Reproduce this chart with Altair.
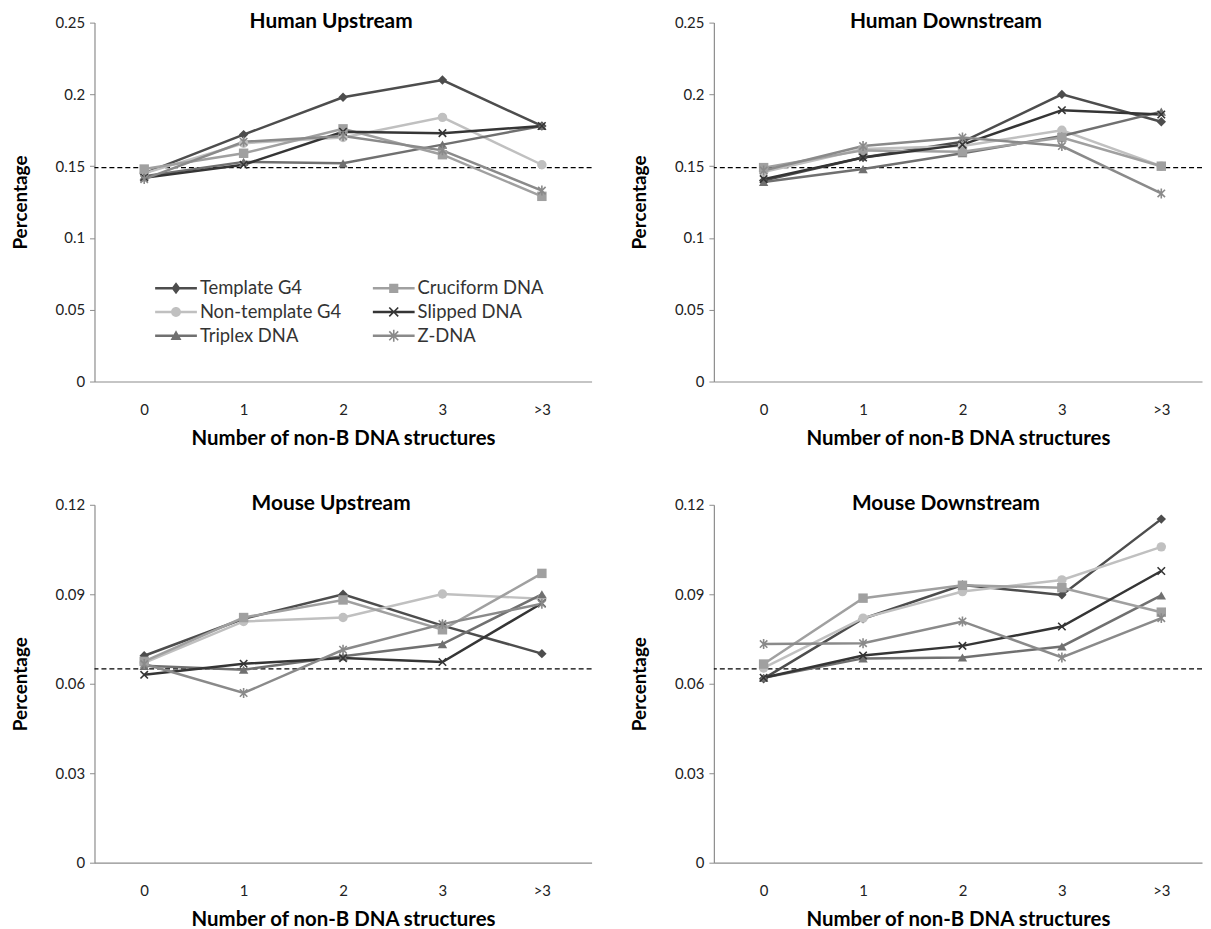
import altair as alt
import pandas as pd

FONT = "Lato"

categories = ["0", "1", "2", "3", ">3"]
series = ["Template G4", "Non-template G4", "Triplex DNA", "Cruciform DNA", "Slipped DNA", "Z-DNA"]

human_up = {
    "Template G4":     [0.145, 0.172, 0.198, 0.210, 0.178],
    "Non-template G4": [0.145, 0.166, 0.170, 0.184, 0.151],
    "Triplex DNA":     [0.143, 0.153, 0.152, 0.165, 0.178],
    "Cruciform DNA":   [0.148, 0.159, 0.176, 0.158, 0.129],
    "Slipped DNA":     [0.142, 0.151, 0.174, 0.173, 0.178],
    "Z-DNA":           [0.141, 0.167, 0.171, 0.161, 0.133],
}
human_down = {
    "Template G4":     [0.140, 0.156, 0.167, 0.200, 0.181],
    "Non-template G4": [0.146, 0.162, 0.164, 0.175, 0.150],
    "Triplex DNA":     [0.139, 0.148, 0.159, 0.171, 0.188],
    "Cruciform DNA":   [0.149, 0.161, 0.160, 0.170, 0.150],
    "Slipped DNA":     [0.141, 0.156, 0.165, 0.189, 0.186],
    "Z-DNA":           [0.147, 0.164, 0.170, 0.164, 0.131],
}
mouse_up = {
    "Template G4":     [0.0694, 0.0818, 0.0900, 0.0795, 0.0701],
    "Non-template G4": [0.0670, 0.0809, 0.0822, 0.0901, 0.0885],
    "Triplex DNA":     [0.0660, 0.0647, 0.0692, 0.0733, 0.0900],
    "Cruciform DNA":   [0.0675, 0.0822, 0.0881, 0.0781, 0.0970],
    "Slipped DNA":     [0.0630, 0.0667, 0.0686, 0.0673, 0.0870],
    "Z-DNA":           [0.0666, 0.0569, 0.0714, 0.0800, 0.0868],
}
mouse_down = {
    "Template G4":     [0.0617, 0.0818, 0.0931, 0.0898, 0.1152],
    "Non-template G4": [0.0653, 0.0820, 0.0909, 0.0948, 0.1059],
    "Triplex DNA":     [0.0620, 0.0685, 0.0688, 0.0725, 0.0896],
    "Cruciform DNA":   [0.0666, 0.0887, 0.0930, 0.0922, 0.0840],
    "Slipped DNA":     [0.0620, 0.0695, 0.0727, 0.0792, 0.0978],
    "Z-DNA":           [0.0733, 0.0736, 0.0809, 0.0688, 0.0820],
}
human_baseline = 0.149
mouse_baseline = 0.065
human_ticks = [0, 0.05, 0.1, 0.15, 0.2, 0.25]
mouse_ticks = [0, 0.03, 0.06, 0.09, 0.12]

colors = {
    "Template G4": "#4d4d4d",
    "Non-template G4": "#c0c0c0",
    "Triplex DNA": "#707070",
    "Cruciform DNA": "#a0a0a0",
    "Slipped DNA": "#353535",
    "Z-DNA": "#8a8a8a",
}
X_PATH = "M-0.75,-0.75L0.75,0.75M-0.75,0.75L0.75,-0.75"
AST_PATH = "M-0.75,-0.75L0.75,0.75M-0.75,0.75L0.75,-0.75M0,-1L0,1"
shapes = {
    "Template G4": "diamond",
    "Non-template G4": "circle",
    "Triplex DNA": "triangle-up",
    "Cruciform DNA": "square",
    "Slipped DNA": X_PATH,
    "Z-DNA": AST_PATH,
}
filled_series = ["Template G4", "Non-template G4", "Triplex DNA", "Cruciform DNA"]
stroked_series = ["Slipped DNA", "Z-DNA"]

# Legend symbols: filled line stub + filled marker, all with the same winding
STUB = "M-2.1,-0.13L-2.1,0.13L2.1,0.13L2.1,-0.13Z"
BAR1 = "M-0.507,-0.393L0.393,0.507L0.507,0.393L-0.393,-0.507Z"
BAR2 = "M-0.393,0.507L0.507,-0.393L0.393,-0.507L-0.507,0.393Z"
VBAR = "M-0.08,-0.6L-0.08,0.6L0.08,0.6L0.08,-0.6Z"
leg_marker = {
    "Template G4": "M0,-0.6L-0.45,0L0,0.6L0.45,0Z",
    "Non-template G4": "M0.5,0A0.5,0.5 0 1,0 -0.5,0A0.5,0.5 0 1,0 0.5,0Z",
    "Triplex DNA": "M0,-0.55L-0.55,0.42L0.55,0.42Z",
    "Cruciform DNA": "M-0.46,-0.46L-0.46,0.46L0.46,0.46L0.46,-0.46Z",
    "Slipped DNA": BAR1 + BAR2,
    "Z-DNA": BAR1 + BAR2 + VBAR,
}

legend_def = alt.Legend(
    orient="none", legendX=72, legendY=257, columns=2, title=None,
    symbolSize=400, symbolStrokeWidth=0, symbolOpacity=1,
    labelOffset=14, labelFontSize=18.5, labelFont=FONT,
    labelColor="#333333", rowPadding=4, columnPadding=31,
)


def make_df(data):
    rows = []
    for s in series:
        for i, (c, v) in enumerate(zip(categories, data[s])):
            rows.append({"cat": c, "idx": i, "series": s, "value": v})
    return pd.DataFrame(rows)


def panel(data, title, ticks, baseline, width, height, pad, align, legend=False):
    df = make_df(data)
    ymax = ticks[-1]
    xenc = alt.X(
        "cat:O", sort=categories,
        scale=alt.Scale(type="point", padding=pad, align=align),
        axis=alt.Axis(title="Number of non-B DNA structures", labelAngle=0, ticks=False,
                      labelPadding=21, titlePadding=11, titleFontSize=20.5,
                      domainColor="#8c8c8c", domainWidth=1.2),
    )
    yscale = alt.Scale(domain=[0, ymax], nice=False, zero=True)
    yenc = alt.Y(
        "value:Q", scale=yscale,
        axis=alt.Axis(title="Percentage", values=ticks, format=".2~f", grid=False,
                      tickSize=5, labelPadding=5, titlePadding=25, titleFontSize=19,
                      domainColor="#8c8c8c", tickColor="#8c8c8c", domainWidth=1.2),
    )
    cscale = alt.Scale(domain=series, range=[colors[s] for s in series])
    sscale = alt.Scale(domain=series, range=[shapes[s] for s in series])
    base = alt.Chart(df)
    lines = base.mark_line(strokeWidth=2.5).encode(
        x=xenc, y=yenc,
        color=alt.Color("series:N", scale=cscale, legend=None),
        order=alt.Order("idx:Q"),
    )
    pts_f = base.transform_filter(
        alt.FieldOneOfPredicate(field="series", oneOf=filled_series)
    ).mark_point(filled=True, size=90, opacity=1).encode(
        x=xenc, y=yenc,
        color=alt.Color("series:N", scale=cscale, legend=None),
        shape=alt.Shape("series:N", scale=sscale, legend=None),
    )
    pts_s = base.transform_filter(
        alt.FieldOneOfPredicate(field="series", oneOf=stroked_series)
    ).mark_point(filled=False, size=100, opacity=1, strokeWidth=1.6).encode(
        x=xenc, y=yenc,
        color=alt.Color("series:N", scale=cscale, legend=None),
        shape=alt.Shape("series:N", scale=sscale, legend=None),
    )
    rule = alt.Chart(pd.DataFrame({"b": [baseline]})).mark_rule(
        color="black", strokeDash=[5, 3], strokeWidth=1.4
    ).encode(y=alt.Y("b:Q", scale=yscale, title="Percentage"))
    layers = [rule, lines, pts_f, pts_s]
    if legend:
        lscale_c = alt.Scale(domain=series, range=[colors[s] for s in series])
        lscale_s = alt.Scale(domain=series, range=[STUB + leg_marker[s] for s in series])
        leg = base.transform_filter("false").transform_calculate(
            leg="datum.series"
        ).mark_point(filled=True, opacity=1).encode(
            x=xenc, y=yenc,
            color=alt.Color("leg:N", scale=lscale_c, legend=legend_def),
            shape=alt.Shape("leg:N", scale=lscale_s, legend=legend_def),
        )
        layers.append(leg)
    out = alt.layer(*layers).properties(
        width=width, height=height,
        title=alt.TitleParams(title, fontSize=21, fontWeight="bold", font=FONT,
                              anchor="middle", offset=-16, dx=-12, color="black"),
    )
    if legend:
        out = out.resolve_scale(color="independent", shape="independent")
    return out


p1 = panel(human_up, "Human Upstream", human_ticks, human_baseline, 500, 361, 0.5, 0.5, legend=True)
p2 = panel(human_down, "Human Downstream", human_ticks, human_baseline, 491, 361, 0.455, 0.55)
p3 = panel(mouse_up, "Mouse Upstream", mouse_ticks, mouse_baseline, 500, 360, 0.5, 0.5)
p4 = panel(mouse_down, "Mouse Downstream", mouse_ticks, mouse_baseline, 491, 360, 0.455, 0.55)

top = alt.hconcat(p1, p2, spacing=38).resolve_scale(color="independent", shape="independent")
bottom = alt.hconcat(p3, p4, spacing=38).resolve_scale(color="independent", shape="independent")

chart = alt.vconcat(top, bottom, spacing=44).resolve_scale(
    color="independent", shape="independent"
).configure(
    font=FONT,
    padding={"left": 3, "top": 0, "right": 0, "bottom": 0},
    background="white",
).configure_view(
    stroke=None,
).configure_axis(
    labelFont=FONT, labelFontSize=15, labelColor="#222222",
    titleFont=FONT, titleFontWeight="bold", titleColor="black",
)

chart.save("out.html", embed_options={"renderer": "svg", "actions": False})
